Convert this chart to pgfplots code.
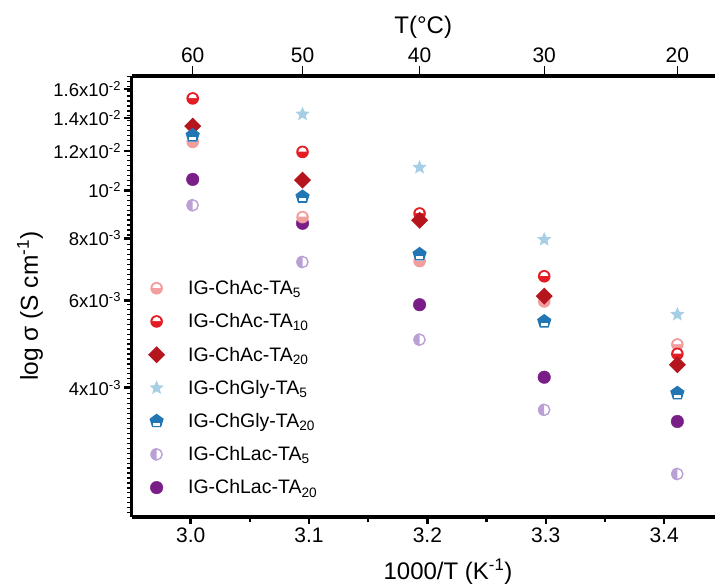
\documentclass[border=0pt]{standalone}
\usepackage{fontspec}
\setmainfont{Liberation Sans}
\usepackage{pgfplots}
\pgfplotsset{compat=1.18}

\definecolor{cPink}{RGB}{242,158,158}
\definecolor{cRed}{RGB}{228,28,36}
\definecolor{cDark}{RGB}{181,22,30}
\definecolor{cSky}{RGB}{166,206,228}
\definecolor{cBlue}{RGB}{34,118,180}
\definecolor{cLav}{RGB}{186,160,212}
\definecolor{cPurp}{RGB}{120,30,134}

% circle with a white upper half
\pgfdeclareplotmark{halfup}{%
  \pgfpathcircle{\pgfpointorigin}{\pgfplotmarksize}%
  \pgfusepathqfill
  \pgfscope
  \pgfsetfillcolor{white}%
  \pgfpathmoveto{\pgfqpoint{-0.66\pgfplotmarksize}{0.06\pgfplotmarksize}}%
  \pgfpatharc{180}{0}{0.66\pgfplotmarksize}%
  \pgfpathclose
  \pgfusepathqfill
  \endpgfscope
}
% circle with the left half filled
\pgfdeclareplotmark{halfleft}{%
  \pgfpathmoveto{\pgfqpoint{0pt}{\pgfplotmarksize}}%
  \pgfpatharc{90}{270}{\pgfplotmarksize}%
  \pgfpathclose
  \pgfusepathqfill
  \pgfscope
  \pgfsetlinewidth{1.4pt}%
  \pgfpathcircle{\pgfpointorigin}{0.88\pgfplotmarksize}%
  \pgfusepathqstroke
  \endpgfscope
}
% pentagon with a white bar in its lower part
\pgfdeclareplotmark{pentbar}{%
  \pgfpathmoveto{\pgfpointpolar{90}{\pgfplotmarksize}}%
  \pgfpathlineto{\pgfpointpolar{162}{\pgfplotmarksize}}%
  \pgfpathlineto{\pgfpointpolar{234}{\pgfplotmarksize}}%
  \pgfpathlineto{\pgfpointpolar{306}{\pgfplotmarksize}}%
  \pgfpathlineto{\pgfpointpolar{18}{\pgfplotmarksize}}%
  \pgfpathclose
  \pgfusepathqfill
  \pgfscope
  \pgfsetfillcolor{white}%
  \pgfpathrectanglecorners{\pgfqpoint{-0.46\pgfplotmarksize}{-0.6\pgfplotmarksize}}{\pgfqpoint{0.46\pgfplotmarksize}{-0.2\pgfplotmarksize}}%
  \pgfusepathqfill
  \endpgfscope
}
% filled five-pointed star
\pgfdeclareplotmark{fstar}{%
  \pgfpathmoveto{\pgfpointpolar{90}{\pgfplotmarksize}}%
  \pgfpathlineto{\pgfpointpolar{126}{0.45\pgfplotmarksize}}%
  \pgfpathlineto{\pgfpointpolar{162}{\pgfplotmarksize}}%
  \pgfpathlineto{\pgfpointpolar{198}{0.45\pgfplotmarksize}}%
  \pgfpathlineto{\pgfpointpolar{234}{\pgfplotmarksize}}%
  \pgfpathlineto{\pgfpointpolar{270}{0.45\pgfplotmarksize}}%
  \pgfpathlineto{\pgfpointpolar{306}{\pgfplotmarksize}}%
  \pgfpathlineto{\pgfpointpolar{342}{0.45\pgfplotmarksize}}%
  \pgfpathlineto{\pgfpointpolar{18}{\pgfplotmarksize}}%
  \pgfpathlineto{\pgfpointpolar{54}{0.45\pgfplotmarksize}}%
  \pgfpathclose
  \pgfusepathqfill
}
% square diamond
\pgfdeclareplotmark{dmd}{%
  \pgfpathmoveto{\pgfqpoint{0pt}{\pgfplotmarksize}}%
  \pgfpathlineto{\pgfqpoint{\pgfplotmarksize}{0pt}}%
  \pgfpathlineto{\pgfqpoint{0pt}{-\pgfplotmarksize}}%
  \pgfpathlineto{\pgfqpoint{-\pgfplotmarksize}{0pt}}%
  \pgfpathclose
  \pgfusepathqfill
}

\pgfplotsset{
  frame/.style={
    at={(131.5pt,71pt)}, anchor=south west,
    scale only axis, width=583.5pt, height=441pt,
    xmin=2.95, xmax=3.443,
  },
}

\begin{document}
\begin{tikzpicture}
\useasboundingbox (0,0) rectangle (715pt,588pt);

% temperature scale on top
\begin{axis}[frame,
  ymin=0, ymax=1, hide y axis,
  axis x line*=top,
  axis line style={-, line width=3.5pt},
  xtick={3.0017,3.0945,3.1934,3.2987,3.4112},
  xticklabels={60,50,40,30,20},
  tick align=outside, major tick length=10pt,
  xtick style={black, line width=1pt},
  xticklabel style={font=\fontsize{21}{24}\selectfont},
  xlabel={T(°C)},
  xlabel style={font=\fontsize{24}{28}\selectfont, at={(rel axis cs:0.5,1.111)}, anchor=center},
]
\end{axis}

% minor ticks of the conductivity scale
\begin{axis}[frame,
  ymin=-2.6586, ymax=-1.7696, hide x axis,
  axis y line*=left, axis line style={draw=none},
  ytick={-3}, yticklabels={},
  minor ytick={-2.65,-2.64,...,-1.77},
  tick align=outside, minor tick length=4.5pt,
  minor tick style={black, line width=1.2pt},
]
\end{axis}

\begin{axis}[frame,
  ymode=log, ymin=2.195e-3, ymax=0.0170,
  axis x line*=bottom, axis y line*=left,
  axis line style={-, line width=3.5pt},
  xtick={3.0,3.1,3.2,3.3,3.4},
  xticklabels={3.0,3.1,3.2,3.3,3.4},
  minor xtick={3.05,3.15,3.25,3.35},
  ytick={0.004,0.006,0.008,0.01,0.012,0.014,0.016},
  yticklabels={4x10\textsuperscript{-3},6x10\textsuperscript{-3},8x10\textsuperscript{-3},10\textsuperscript{-2},1.2x10\textsuperscript{-2},1.4x10\textsuperscript{-2},1.6x10\textsuperscript{-2}},
  minor y tick num=0,
  tick align=outside, major tick length=7pt, minor tick length=5pt,
  major tick style={black, line width=2.5pt},
  minor tick style={black, line width=2.5pt},
  xticklabel style={font=\fontsize{21}{24}\selectfont},
  yticklabel style={font=\fontsize{18.5}{22}\selectfont},
  xlabel={1000/T (K\textsuperscript{-1})},
  xlabel style={font=\fontsize{24}{28}\selectfont, at={(rel axis cs:0.5424,-0.1247)}, anchor=center},
  ylabel={log σ (S cm\textsuperscript{-1})},
  ylabel style={font=\fontsize{24.5}{28}\selectfont, at={(rel axis cs:-0.174,0.478)}, anchor=center},
  clip=false,
  legend cell align=left,
  legend style={at={(rel axis cs:0.023,0.546)}, anchor=north west,
    draw=none, fill=none, font=\fontsize{19.5}{22}\selectfont,
    row sep=13.6pt,
    /tikz/every odd column/.append style={column sep=21pt}},
]
% drawing order chosen so that overlapping marks stack as intended
\addplot[only marks, mark=*, color=cPurp, mark size=6.3pt, forget plot] coordinates {
  (3.0017,0.01052) (3.0945,0.00858) (3.1934,0.00588) (3.2987,0.00420) (3.4112,0.00342)};
\addplot[only marks, mark=halfleft, color=cLav, mark size=6.3pt, forget plot] coordinates {
  (3.0017,0.00933) (3.0945,0.00717) (3.1934,0.00500) (3.2987,0.00361) (3.4112,0.00268)};
\addplot[only marks, mark=halfup, color=cPink, mark size=6.3pt, forget plot] coordinates {
  (3.0017,0.01252) (3.0945,0.00883) (3.1934,0.00720) (3.2987,0.00597) (3.4112,0.00489)};
\addplot[only marks, mark=halfup, color=cRed, mark size=6.3pt, forget plot] coordinates {
  (3.0017,0.01532) (3.0945,0.01195) (3.1934,0.00898) (3.2987,0.00671) (3.4112,0.00468)};
\addplot[only marks, mark=dmd, color=cDark, mark size=8.5pt, forget plot] coordinates {
  (3.0017,0.01347) (3.0945,0.01048) (3.1934,0.00870) (3.2987,0.00612) (3.4112,0.00445)};
\addplot[only marks, mark=fstar, color=cSky, mark size=7.5pt, forget plot] coordinates {
  (3.0945,0.01424) (3.1934,0.01112) (3.2987,0.00796) (3.4112,0.00562)};
\addplot[only marks, mark=pentbar, color=cBlue, mark size=7.5pt, forget plot] coordinates {
  (3.0017,0.01290) (3.0945,0.00970) (3.1934,0.00743) (3.2987,0.00544) (3.4112,0.00390)};

\addlegendimage{only marks, mark=halfup, color=cPink, mark size=6.3pt}
\addlegendentry{IG-ChAc-TA\textsubscript{5}}
\addlegendimage{only marks, mark=halfup, color=cRed, mark size=6.3pt}
\addlegendentry{IG-ChAc-TA\textsubscript{10}}
\addlegendimage{only marks, mark=dmd, color=cDark, mark size=8.5pt}
\addlegendentry{IG-ChAc-TA\textsubscript{20}}
\addlegendimage{only marks, mark=fstar, color=cSky, mark size=7.5pt}
\addlegendentry{IG-ChGly-TA\textsubscript{5}}
\addlegendimage{only marks, mark=pentbar, color=cBlue, mark size=7.5pt}
\addlegendentry{IG-ChGly-TA\textsubscript{20}}
\addlegendimage{only marks, mark=halfleft, color=cLav, mark size=6.3pt}
\addlegendentry{IG-ChLac-TA\textsubscript{5}}
\addlegendimage{only marks, mark=*, color=cPurp, mark size=6.3pt}
\addlegendentry{IG-ChLac-TA\textsubscript{20}}
\end{axis}
\end{tikzpicture}
\end{document}
